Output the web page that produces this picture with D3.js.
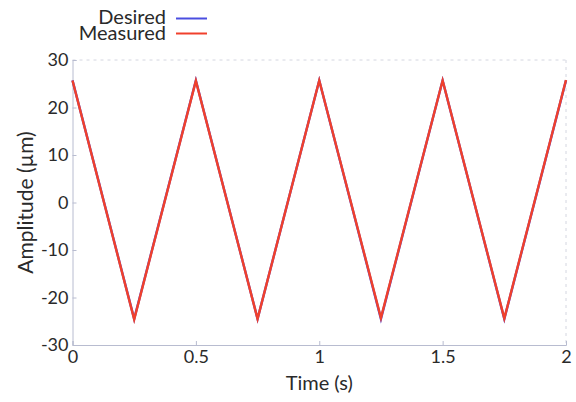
<!DOCTYPE html>
<html>
<head>
<meta charset="utf-8">
<script src="https://cdn.jsdelivr.net/npm/d3@7"></script>
<style>
  body { margin: 0; background: #fff; }
  svg { display: block; }
  text { font-family: Lato, "Open Sans", sans-serif; fill: #2a2a2a; }
</style>
</head>
<body>
<svg id="chart" width="576" height="402"></svg>
<script>
// Triangle-wave turning points (time in seconds, amplitude in µm)
const time = [0, 0.25, 0.5, 0.75, 1, 1.25, 1.5, 1.75, 2];
const desired = [25.7, -24.5, 25.7, -24.5, 25.7, -24.5, 25.7, -24.5, 25.7];
const measured = [25.7, -24.6, 25.6, -24.5, 25.7, -24.3, 25.7, -24.4, 25.8];
const xTicks = [0, 0.5, 1, 1.5, 2];
const yTicks = [-30, -20, -10, 0, 10, 20, 30];
const seriesNames = ["Desired", "Measured"];
const seriesColors = ["#4a4ee0", "#f0402c"];

const svg = d3.select("#chart");
const m = { left: 72.5, right: 10, top: 60, bottom: 57 };
const W = 576, H = 402;
const FONT = 'Lato, "Open Sans", sans-serif';

const x = d3.scaleLinear().domain([0, 2]).range([m.left, W - m.right]);
const y = d3.scaleLinear().domain([-30, 30]).range([H - m.bottom, m.top]);

// Frame: faint dotted top/right edges
svg.append("line").attr("x1", x(0)).attr("x2", x(2)).attr("y1", y(30)).attr("y2", y(30))
  .attr("stroke", "#d4d6e0").attr("stroke-dasharray", "3,4");
svg.append("line").attr("x1", x(2)).attr("x2", x(2)).attr("y1", y(30)).attr("y2", y(-30))
  .attr("stroke", "#d4d6e0").attr("stroke-dasharray", "3,4");

const axisColor = "#b8bcd0";
const fmt = d => String(d);   // plain hyphen for negatives

const xAxis = d3.axisBottom(x).tickValues(xTicks).tickSize(-4).tickPadding(5).tickFormat(fmt);
const gx = svg.append("g").attr("transform", `translate(0,${y(-30)})`).call(xAxis);
gx.select(".domain").attr("stroke", axisColor);
gx.selectAll(".tick line").attr("stroke", axisColor);
gx.selectAll(".tick text").attr("font-size", 18).attr("fill", "#2a2a2a").attr("font-family", FONT);

const yAxis = d3.axisLeft(y).tickValues(yTicks).tickSize(-4).tickPadding(4).tickFormat(fmt);
const gy = svg.append("g").attr("transform", `translate(${x(0)},0)`).call(yAxis);
gy.select(".domain").attr("stroke", axisColor);
gy.selectAll(".tick line").attr("stroke", axisColor);
gy.selectAll(".tick text").attr("font-size", 18).attr("fill", "#2a2a2a").attr("font-family", FONT);

// Series lines
const line = d3.line().x((d, i) => x(time[i])).y(d => y(d));
[desired, measured].forEach((vals, k) => {
  svg.append("path").datum(vals)
    .attr("d", line)
    .attr("fill", "none")
    .attr("stroke", seriesColors[k])
    .attr("stroke-width", 2.4)
    .attr("stroke-linejoin", "miter");
});

// Axis titles
svg.append("text").attr("x", (x(0) + x(2)) / 2).attr("y", 390)
  .attr("text-anchor", "middle").attr("font-size", 20).text("Time (s)");
svg.append("text")
  .attr("transform", `translate(33,${y(0)}) rotate(-90)`)
  .attr("text-anchor", "middle").attr("font-size", 21).text("Amplitude (µm)");

// Legend
const lg = svg.append("g");
seriesNames.forEach((name, k) => {
  const ly = 18.5 + k * 15;
  lg.append("text").attr("x", 166).attr("y", 23.5 + k * 16.5).attr("text-anchor", "end")
    .attr("font-size", 20).text(name);
  lg.append("line").attr("x1", 176).attr("x2", 207).attr("y1", ly).attr("y2", ly)
    .attr("stroke", seriesColors[k]).attr("stroke-width", 2);
});
</script>
</body>
</html>
